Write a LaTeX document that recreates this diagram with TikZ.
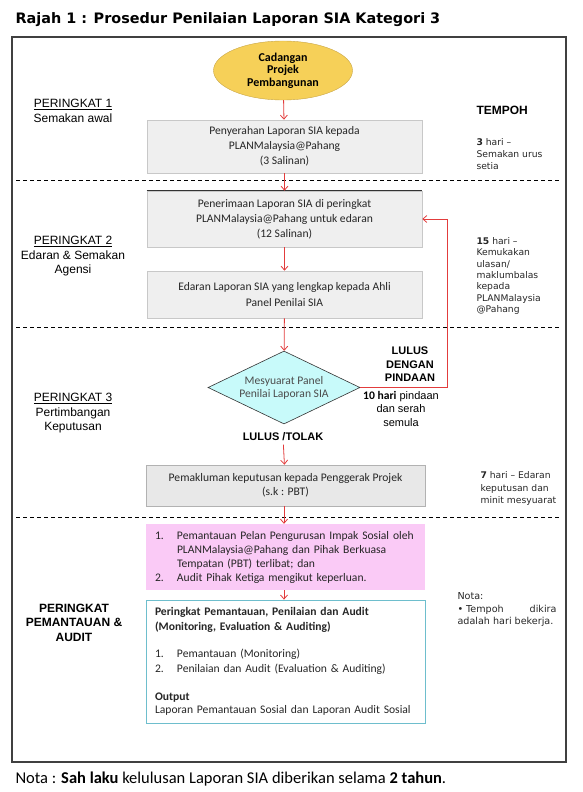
\documentclass[tikz,border=0pt]{standalone}
\usepackage{fontspec}
\setmainfont{Carlito}
\newfontfamily\arialfont{Liberation Sans}
\newfontfamily\tahomafont{DejaVu Sans}
\usetikzlibrary{shapes.geometric,arrows.meta}
\definecolor{arrowred}{RGB}{226,60,60}
\definecolor{boxgray}{RGB}{239,239,239}
\definecolor{boxline}{RGB}{200,200,200}
\definecolor{goldfill}{RGB}{246,208,88}
\definecolor{goldline}{RGB}{200,165,70}
\definecolor{cyanfill}{RGB}{200,250,250}
\definecolor{pinkfill}{RGB}{250,202,246}
\definecolor{tealline}{RGB}{110,190,205}
\newcommand{\framecolor}{black!75}
\newcommand{\thickness}{0.8pt}
\newcommand{\boxfont}{\fontsize{11.6}{15}\selectfont}
\newcommand{\num}[1]{\makebox[22pt][l]{#1}}
\tikzset{
  greybox/.style={draw=boxline, fill=boxgray, line width=0.6pt, minimum width=275pt,
    align=center, inner sep=0pt, font=\boxfont, text=black!85},
  listbox/.style={text width=261pt, inner xsep=9pt, inner ysep=0pt, align=left,
    text=black!85},
  flow/.style={draw=arrowred, line width=\thickness, -{Straight Barb[length=4pt,width=7pt]}},
  stagelabel/.style={align=center, font=\arialfont\fontsize{12}{14.5}\selectfont},
  timelabel/.style={anchor=west, align=left, font=\tahomafont\fontsize{9.2}{12}\selectfont,
    text=black!85},
  outcome/.style={align=center, font=\arialfont\bfseries\fontsize{11}{13.5}\selectfont},
  divider/.style={dash pattern=on 4pt off 3pt, line width=\thickness}
}

\begin{document}
\begin{tikzpicture}[x=1pt, y=-1pt]
\useasboundingbox (0,0) rectangle (583,792);
\node[anchor=west, font=\tahomafont\bfseries\fontsize{14.4}{16}\selectfont] (judul) at (12,20) {Rajah 1 : Prosedur Penilaian Laporan SIA Kategori 3};
\draw[line width=1.8pt, draw=\framecolor] (12,37) rectangle (566,762);
%dividers
\draw[divider] (16,180) -- (561,180);
\draw[divider] (16,327) -- (561,327);
\draw[divider] (16,517) -- (561,517);
%flow
\node[ellipse, draw=goldline, fill=goldfill, minimum width=139pt, minimum height=59pt, inner sep=0pt, align=center, font=\bfseries\fontsize{12}{12.5}\selectfont] (cadangan) at (283,70.5) {Cadangan\\Projek\\Pembangunan};
\node[greybox, minimum height=53pt] (serah) at (284.5,146.5) {Penyerahan Laporan SIA kepada\\PLANMalaysia@Pahang\\(3 Salinan)};
\node[greybox, minimum height=56pt] (terima) at (284.5,219) {Penerimaan Laporan SIA di peringkat\\PLANMalaysia@Pahang untuk edaran\\(12 Salinan)};
\draw[line width=0.8pt, draw=black!80] (terima.north west) -- (terima.north east);
\node[greybox, minimum height=47pt, font=\fontsize{11.6}{16}\selectfont] (edaran) at (284.5,294.5) {Edaran Laporan SIA yang lengkap kepada Ahli\\Panel Penilai SIA};
\node[diamond, aspect=2.1, draw=black!80, fill=cyanfill, line width=0.6pt, minimum width=152pt, minimum height=73pt, inner sep=0pt, align=center, font=\fontsize{11.6}{13}\selectfont, text=black!70] (mesyuarat) at (284,387.5) {Mesyuarat Panel\\Penilai Laporan SIA};
\node[greybox, fill=black!9, draw=black!30, minimum width=279pt, minimum height=41pt, font=\fontsize{11.6}{14}\selectfont] (makluman) at (285.5,485.5) {Pemakluman keputusan kepada Penggerak Projek\\(s.k : PBT)};
\node[listbox, fill=pinkfill, minimum height=66pt, font=\fontsize{11.6}{14}\selectfont] (pantau) at (285.5,557) {\num{1.}Pemantauan Pelan Pengurusan Impak Sosial oleh\\\hspace*{22pt}PLANMalaysia@Pahang dan Pihak Berkuasa\\\hspace*{22pt}Tempatan (PBT) terlibat; dan\\\num{2.}Audit Pihak Ketiga mengikut keperluan.};
\node[listbox, draw=tealline, line width=0.8pt, minimum height=123pt, font=\boxfont] (audit) at (285.5,661.5) {\textbf{Peringkat Pemantauan, Penilaian dan Audit}\\\textbf{(Monitoring, Evaluation \& Auditing)}\\[12pt]\num{1.}Pemantauan (Monitoring)\\\num{2.}Penilaian dan Audit (Evaluation \& Auditing)\\[13pt]\textbf{Output}\\[-2pt]Laporan Pemantauan Sosial dan Laporan Audit Sosial};
\coordinate (balik) at (447,387.5);
\draw[flow] (cadangan) -- (serah);
\draw[flow] (serah) -- (terima);
\draw[flow] (terima) -- (edaran);
\draw[flow] (edaran) -- (mesyuarat);
\draw[flow] (mesyuarat.east) -- (balik) |- (terima.east);
\draw[flow] (makluman.south -| mesyuarat) -- (pantau.north -| mesyuarat);
\draw[flow] (pantau.south -| mesyuarat) -- (audit.north -| mesyuarat);
%outcomes
\node[outcome] (pindaan) at (410,364.5) {LULUS\\DENGAN\\PINDAAN};
\node[align=center, font=\arialfont\fontsize{11}{13.5}\selectfont] (serahsemula) at (401,408.5) {{\rmfamily\bfseries\fontsize{11.6}{13.5}\selectfont 10 hari} pindaan\\dan serah\\semula};
\node[outcome] (keputusan) at (283,437) {LULUS /TOLAK};
\draw[flow] (keputusan) -- (makluman);
%stages
\node[stagelabel] (p1) at (73,111) {\underline{PERINGKAT 1}\\Semakan awal};
\node[stagelabel] (p2) at (73,256.5) {\underline{PERINGKAT 2}\\Edaran \& Semakan\\Agensi};
\node[stagelabel] (p3) at (73,413.5) {\underline{PERINGKAT 3}\\Pertimbangan\\Keputusan};
\node[stagelabel, font=\arialfont\bfseries\fontsize{12}{14.5}\selectfont] (p4) at (74,622.5) {PERINGKAT\\PEMANTAUAN \&\\AUDIT};
%tempoh
\node[anchor=west, font=\arialfont\bfseries\fontsize{12}{14}\selectfont] (tempoh) at (473,110) {TEMPOH};
\node[timelabel] (t1) at (473,154) {\textbf{3} hari –\\Semakan urus\\setia};
\node[timelabel, font=\tahomafont\fontsize{9.2}{11.33}\selectfont] (t2) at (473,276) {\textbf{15} hari –\\Kemukakan\\ulasan/\\maklumbalas\\kepada\\PLANMalaysia\\@Pahang};
\node[timelabel, font=\tahomafont\fontsize{9.2}{12.5}\selectfont] (t3) at (477,488.5) {\textbf{7} hari – Edaran\\keputusan dan\\minit mesyuarat};
\node[timelabel, font=\tahomafont\fontsize{9.6}{12.5}\selectfont] (nota) at (454,609.5) {Nota:\\\makebox[99pt][l]{• Tempoh\hfill dikira}\\adalah hari bekerja.};
\node[anchor=west, font=\fontsize{16.5}{18}\selectfont] (sahlaku) at (12,779) {Nota : \textbf{Sah laku} kelulusan Laporan SIA diberikan selama \textbf{2 tahun}.};
\end{tikzpicture}
\end{document}
